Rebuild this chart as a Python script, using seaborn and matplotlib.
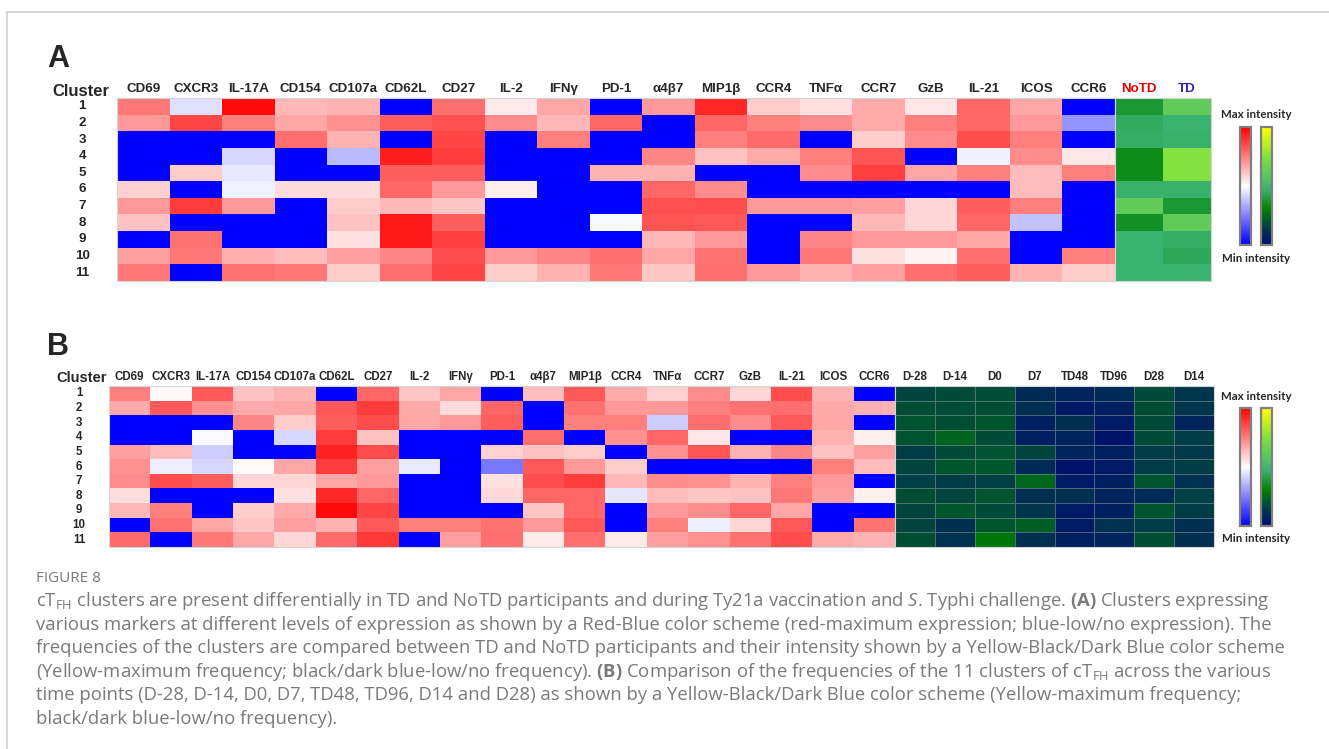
import numpy as np
import pandas as pd
import matplotlib
matplotlib.use("Agg")
import matplotlib.pyplot as plt
import seaborn as sns
from matplotlib.colors import LinearSegmentedColormap
from matplotlib.lines import Line2D

sns.set_theme(style="white")
plt.rcParams["font.family"] = ["Liberation Sans", "DejaVu Sans"]
plt.rcParams["mathtext.fontset"] = "custom"
plt.rcParams["mathtext.rm"] = "Open Sans"
plt.rcParams["mathtext.bf"] = "Open Sans:bold"
plt.rcParams["mathtext.it"] = "Open Sans:italic"

# ---------------------------------------------------------------- data
markers = ["CD69", "CXCR3", "IL-17A", "CD154", "CD107a", "CD62L", "CD27", "IL-2",
           "IFNγ", "PD-1", "α4β7", "MIP1β", "CCR4", "TNFα", "CCR7", "GzB", "IL-21",
           "ICOS", "CCR6"]
clusters = [str(i) for i in range(1, 12)]
groups = ["NoTD", "TD"]
timepoints = ["D-28", "D-14", "D0", "D7", "TD48", "TD96", "D28", "D14"]

# scaled marker expression per cluster (-1 = min, +1 = max), panel A
expr_a = [
    [0.53, -0.12, 0.96, 0.28, 0.30, -1, 0.57, 0.08, 0.35, -1, 0.40, 0.85, 0.20, 0.12, 0.33, 0.10, 0.60, 0.35, -1],
    [0.40, 0.72, 0.50, 0.35, 0.43, 0.63, 0.68, 0.45, 0.28, 0.60, -1, 0.60, 0.50, 0.45, 0.33, 0.50, 0.60, 0.40, -0.42],
    [-1, -1, -1, 0.57, 0.30, -1, 0.72, -1, 0.50, -1, -1, 0.50, 0.58, -1, 0.20, 0.45, 0.70, 0.50, -1],
    [-1, -1, -0.16, -1, -0.27, 0.88, 0.76, -1, -1, -1, 0.47, 0.24, 0.33, 0.50, 0.67, -1, -0.06, 0.45, 0.10],
    [-1, 0.20, -0.09, -1, -1, 0.63, 0.63, -1, -1, 0.30, 0.30, -1, -1, 0.45, 0.75, 0.35, 0.50, 0.26, 0.50],
    [0.18, -1, -0.05, 0.14, 0.14, 0.60, 0.40, 0.07, -1, -1, 0.60, 0.45, -1, -1, -1, -1, -1, 0.26, -1],
    [0.40, 0.76, 0.40, -1, 0.20, 0.28, 0.22, -1, -1, -1, 0.68, 0.70, 0.40, 0.40, 0.37, 0.16, 0.63, 0.50, -1],
    [0.24, -1, -1, -1, 0.24, 0.90, 0.63, -1, -1, -0.03, 0.67, 0.65, -1, -1, 0.28, 0.16, 0.60, -0.24, -1],
    [-1, 0.55, -1, -1, 0.12, 0.90, 0.75, -1, -1, -1, 0.28, 0.40, -1, 0.47, 0.40, 0.40, 0.35, -1, -1],
    [0.37, 0.53, 0.31, 0.26, 0.37, 0.47, 0.70, 0.40, 0.47, 0.57, 0.35, 0.55, -1, 0.53, 0.12, 0.04, 0.57, -1, 0.50],
    [0.53, -1, 0.55, 0.53, 0.20, 0.57, 0.72, 0.20, 0.30, 0.53, 0.22, 0.57, 0.40, 0.30, 0.37, 0.57, 0.63, 0.30, 0.20],
]

# relative cluster frequency (0 = min, 1 = max), panel A
freq_notd = [0.38, 0.45, 0.46, 0.34, 0.34, 0.47, 0.62, 0.36, 0.48, 0.48, 0.48]
freq_td = [0.62, 0.48, 0.47, 0.75, 0.75, 0.47, 0.38, 0.62, 0.46, 0.44, 0.48]

# scaled marker expression per cluster, panel B
expr_b = [
    [0.50, 0.03, 0.65, 0.24, 0.30, -1, 0.60, 0.22, 0.35, -1, 0.26, 0.65, 0.33, 0.18, 0.45, 0.16, 0.70, 0.30, -1],
    [0.33, 0.65, 0.43, 0.33, 0.35, 0.65, 0.76, 0.33, 0.14, 0.60, -1, 0.55, 0.40, 0.40, 0.50, 0.55, 0.57, 0.33, 0.30],
    [-1, -1, -1, 0.47, 0.20, 0.63, 0.70, 0.35, 0.40, 0.63, -1, 0.50, 0.50, -0.20, 0.57, 0.45, 0.65, 0.35, -1],
    [-1, -1, -0.02, -1, -0.16, 0.76, 0.24, -1, -1, -1, 0.57, -1, 0.43, 0.60, 0.10, -1, -1, 0.30, 0.06],
    [0.37, 0.26, -0.20, -1, -1, 0.86, 0.70, -1, -1, 0.18, 0.24, 0.20, -1, 0.43, 0.67, 0.30, 0.47, 0.24, 0.37],
    [0.43, -0.07, -0.16, 0.02, 0.35, 0.76, 0.37, -0.08, -1, -0.53, 0.65, 0.40, 0.20, -1, -1, -1, -1, 0.50, 0.26],
    [0.45, 0.70, 0.63, 0.16, 0.16, 0.35, 0.40, -1, -1, 0.12, 0.70, 0.76, 0.28, 0.45, 0.43, 0.30, 0.50, 0.40, -1],
    [0.13, -1, -1, -1, 0.12, 0.84, 0.60, -1, -1, 0.15, 0.60, 0.60, -0.10, 0.26, 0.22, 0.24, 0.53, 0.37, 0.06],
    [0.28, 0.50, -1, 0.20, 0.33, 0.96, 0.72, -1, -1, -1, 0.22, 0.60, -1, 0.40, 0.45, 0.60, 0.35, -1, -1],
    [-1, 0.55, 0.35, 0.22, 0.37, 0.30, 0.65, 0.50, 0.50, 0.55, 0.40, 0.65, -1, 0.50, -0.07, 0.16, 0.65, -1, 0.55],
    [0.58, -1, 0.53, 0.35, 0.16, 0.58, 0.78, -1, 0.37, 0.57, 0.08, 0.57, 0.08, 0.37, 0.43, 0.55, 0.70, 0.33, 0.30],
]

# relative cluster frequency across time points, panel B
freq_time = [
    [0.17, 0.18, 0.185, 0.10, 0.08, 0.10, 0.18, 0.135],
    [0.19, 0.18, 0.19, 0.11, 0.05, 0.065, 0.19, 0.135],
    [0.20, 0.19, 0.205, 0.065, 0.11, 0.05, 0.18, 0.08],
    [0.20, 0.235, 0.18, 0.065, 0.08, 0.03, 0.18, 0.15],
    [0.15, 0.18, 0.20, 0.17, 0.08, 0.065, 0.15, 0.14],
    [0.17, 0.21, 0.21, 0.10, 0.03, 0.05, 0.15, 0.15],
    [0.16, 0.15, 0.16, 0.245, 0.05, 0.065, 0.20, 0.12],
    [0.19, 0.17, 0.20, 0.11, 0.11, 0.08, 0.10, 0.16],
    [0.17, 0.21, 0.18, 0.135, 0.05, 0.065, 0.20, 0.15],
    [0.17, 0.11, 0.21, 0.225, 0.05, 0.12, 0.15, 0.11],
    [0.19, 0.12, 0.28, 0.11, 0.065, 0.08, 0.19, 0.11],
]

caption_lines = [
    r"c$\mathrm{T}_{\mathrm{FH}}$ clusters are present differentially in TD and NoTD participants and during Ty21a vaccination and $\mathit{S}$. Typhi challenge. $\mathbf{(A)}$ Clusters expressing",
    "various markers at different levels of expression as shown by a Red-Blue color scheme (red-maximum expression; blue-low/no expression). The",
    "frequencies of the clusters are compared between TD and NoTD participants and their intensity shown by a Yellow-Black/Dark Blue color scheme",
    r"(Yellow-maximum frequency; black/dark blue-low/no frequency). $\mathbf{(B)}$ Comparison of the frequencies of the 11 clusters of c$\mathrm{T}_{\mathrm{FH}}$ across the various",
    "time points (D-28, D-14, D0, D7, TD48, TD96, D14 and D28) as shown by a Yellow-Black/Dark Blue color scheme (Yellow-maximum frequency;",
    "black/dark blue-low/no frequency).",
]

# ---------------------------------------------------------------- colour maps
rb_cmap = LinearSegmentedColormap.from_list("rb", ["#0000ff", "#ffffff", "#ff0000"])
green_nodes = [(0.00, (0, 10, 115)), (0.15, (0, 60, 70)), (0.30, (0, 128, 0)),
               (0.48, (60, 179, 113)), (0.75, (130, 225, 65)), (1.00, (255, 255, 0))]
gy_cmap = LinearSegmentedColormap.from_list(
    "gy", [(p, tuple(c / 255 for c in rgb)) for p, rgb in green_nodes])

# ---------------------------------------------------------------- figure
W, H = 1329, 749
fig = plt.figure(figsize=(W / 100, H / 100), dpi=100)
fig.patch.set_facecolor("white")


def px_axes(x0, y0, x1, y1):
    return fig.add_axes([x0 / W, 1 - y1 / H, (x1 - x0) / W, (y1 - y0) / H])


def px(x, y):
    return x / W, 1 - y / H


def heat(ax, df, cmap, vmin, vmax, cax, fs, row_pad=None, lw=0.0, lc="white",
         label_colors=None):
    sns.heatmap(df, ax=ax, cmap=cmap, vmin=vmin, vmax=vmax,
                cbar=cax is not None, cbar_ax=cax,
                xticklabels=True, yticklabels=row_pad is not None,
                linewidths=lw, linecolor=lc)
    ax.xaxis.tick_top()
    ax.tick_params(axis="x", top=False, bottom=False, length=0, pad=2.2, labelsize=fs)
    for t in ax.get_xticklabels():
        t.set_rotation(0)
        t.set_fontweight("bold")
    if label_colors:
        for t, c in zip(ax.get_xticklabels(), label_colors):
            t.set_color(c)
    if row_pad is not None:
        ax.tick_params(axis="y", left=False, length=0, pad=row_pad, labelsize=fs)
        for t in ax.get_yticklabels():
            t.set_rotation(0)
            t.set_ha("center")
            t.set_fontweight("bold")
    ax.set_xlabel("")
    ax.set_ylabel("")
    for s in ax.spines.values():
        s.set_visible(True)
        s.set_color("#d4d4d4")
        s.set_linewidth(0.8)
    if cax is not None:
        cb = ax.collections[0].colorbar
        cb.set_ticks([])
        cb.outline.set_edgecolor("#7f7f7f")
        cb.outline.set_linewidth(1.6)


# ---- panel A
df_a = pd.DataFrame(expr_a, index=clusters, columns=markers)
df_a_freq = pd.DataFrame({"NoTD": freq_notd, "TD": freq_td}, index=clusters)[groups]

ax_a = px_axes(117, 98, 1115, 281)
ax_a2 = px_axes(1115, 98, 1211, 281)
cax_a1 = px_axes(1240, 127, 1251, 245)
cax_a2 = px_axes(1261, 127, 1272, 245)
heat(ax_a, df_a, rb_cmap, -1, 1, cax_a1, 9.6, row_pad=25)
heat(ax_a2, df_a_freq, gy_cmap, 0, 1, cax_a2, 9.6,
     label_colors=["#e60000", "#3a22a6"])

fig.text(*px(47, 59), "A", fontsize=22, fontweight="bold", va="center", ha="left")
fig.text(*px(81, 91), "Cluster", fontsize=12, fontweight="bold", va="center", ha="center")
fig.text(*px(1256, 115), "Max intensity", fontsize=8.3, fontweight="bold",
         family=["Lato", "DejaVu Sans"], va="center", ha="center")
fig.text(*px(1256, 259), "Min intensity", fontsize=8.3, fontweight="bold",
         family=["Lato", "DejaVu Sans"], va="center", ha="center")

# ---- panel B
df_b = pd.DataFrame(expr_b, index=clusters, columns=markers)
df_b_time = pd.DataFrame(freq_time, index=clusters, columns=timepoints)

ax_b = px_axes(109, 386, 895, 547)
ax_b2 = px_axes(895, 386, 1214, 547)
cax_b1 = px_axes(1240, 408, 1251, 526)
cax_b2 = px_axes(1261, 408, 1272, 526)
heat(ax_b, df_b, rb_cmap, -1, 1, cax_b1, 8.3, row_pad=21.5)
heat(ax_b2, df_b_time, gy_cmap, 0, 1, cax_b2, 8.3, lw=0.7,
     lc=(0.55, 0.62, 0.62, 0.55))

fig.text(*px(47, 347), "B", fontsize=22, fontweight="bold", va="center", ha="left")
fig.text(*px(82, 378), "Cluster", fontsize=10.5, fontweight="bold", va="center", ha="center")
fig.text(*px(1256, 397), "Max intensity", fontsize=8.3, fontweight="bold",
         family=["Lato", "DejaVu Sans"], va="center", ha="center")
fig.text(*px(1256, 539), "Min intensity", fontsize=8.3, fontweight="bold",
         family=["Lato", "DejaVu Sans"], va="center", ha="center")

# ---- caption
cap_color = "#7a7a7a"
fig.text(*px(36, 578), "FIGURE 8", fontsize=11, color=cap_color,
         family=["Open Sans", "DejaVu Sans"], va="center", ha="left")
for i, line in enumerate(caption_lines):
    fig.text(*px(36, 601 + 23.6 * i), line, fontsize=13.3, color=cap_color,
             family=["Open Sans", "DejaVu Sans"], va="center", ha="left")

# ---- frame
frame_c = "#cfcfcf"
fig.add_artist(Line2D([7 / W, 1], [1 - 12 / H, 1 - 12 / H], transform=fig.transFigure,
                      color=frame_c, lw=1.2))
fig.add_artist(Line2D([7 / W, 7 / W], [0, 1 - 12 / H], transform=fig.transFigure,
                      color=frame_c, lw=1.2))

fig.savefig("out.png", dpi=100, facecolor="white")
